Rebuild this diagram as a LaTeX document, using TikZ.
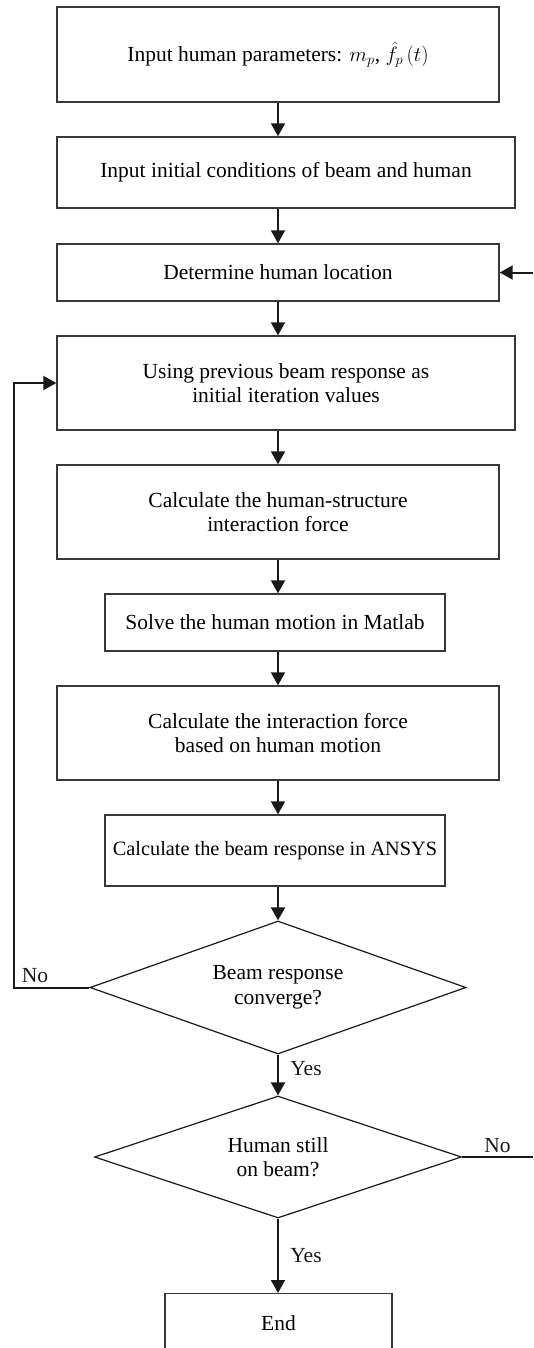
\documentclass[tikz,border=0pt]{standalone}
\usepackage{fontspec}
\setmainfont{Liberation Serif}
\usetikzlibrary{arrows.meta,shapes.geometric}

\begin{document}
\begin{tikzpicture}[
  x=1pt, y=-1pt,
  font=\fontsize{21.5}{24.5}\selectfont,
  >={Triangle[length=13pt,width=14pt]},
  proc/.style={draw=black!78, line width=1.4pt, align=center, inner sep=0pt},
  test/.style={diamond, aspect=2.8, draw=black!90, line width=1.2pt, align=center, inner sep=0pt},
  flow/.style={black!90, line width=2pt, ->},
  link/.style={black!90, line width=2pt}
]
\useasboundingbox (0,0) rectangle (533,1348);
\clip (0,0) rectangle (533,1348);

% side rails for the two return paths
\coordinate (lx) at (14,0);
\coordinate (rx) at (533,0);

% process boxes
\node[proc, minimum width=442pt, minimum height=95pt] (params) at (278,54.5)
  {Input human parameters: $m_p$, $\hat{f}_p\,(t)$};
\node[proc, minimum width=458pt, minimum height=71pt] (init) at (286,172.5)
  {Input initial conditions of beam and human};
\node[proc, minimum width=442pt, minimum height=57pt] (locate) at (278,272.5)
  {Determine human location};
\node[proc, minimum width=458pt, minimum height=94pt] (iter) at (286,383)
  {Using previous beam response as\\initial iteration values};
\node[proc, minimum width=442pt, minimum height=94pt] (hsi) at (278,512)
  {Calculate the human-structure\\interaction force};
\node[proc, minimum width=340pt, minimum height=57pt] (motion) at (275,622.5)
  {Solve the human motion in Matlab};
\node[proc, minimum width=442pt, minimum height=94pt] (force) at (278,733)
  {Calculate the interaction force\\based on human motion};
\node[proc, minimum width=340pt, minimum height=71pt, font=\fontsize{20.3}{24}\selectfont] (ansys) at (275,850.5)
  {Calculate the beam response in ANSYS};

% decisions
\node[test, minimum width=376pt, minimum height=133pt] (conv) at (278,987.5)
  {Beam response\\converge?};
\node[test, minimum width=367pt, minimum height=122pt] (onbeam) at (278,1157)
  {Human still\\on beam?};

\node[proc, anchor=north, minimum width=227pt, minimum height=58pt] (finish) at (278.5,1293) {End};

% main flow
\draw[flow] (params.south) -- (params.south |- init.north);
\draw[flow] (params.south |- init.south) -- (locate.north);
\draw[flow] (locate.south) -- (locate.south |- iter.north);
\draw[flow] (locate.south |- iter.south) -- (hsi.north);
\draw[flow] (hsi.south) -- (hsi.south |- motion.north);
\draw[flow] (hsi.south |- motion.south) -- (force.north);
\draw[flow] (force.south) -- (force.south |- ansys.north);
\draw[flow] (force.south |- ansys.south) -- (conv.north);
\draw[flow] (conv.south) -- node[right, xshift=8pt, pos=.35] {Yes} (onbeam.north);
\draw[flow] (onbeam.south) -- node[right, xshift=8pt, pos=.5] {Yes} (onbeam.south |- finish.north);

% return paths
\draw[flow] (conv.west) -- node[above, pos=.72] {No} (conv.west -| lx) |- (iter.west);
\draw[link] (onbeam.east) -- node[above] {No} (onbeam.east -| rx);
\draw[flow] (locate.east -| rx) -- (locate.east);

\end{tikzpicture}
\end{document}
